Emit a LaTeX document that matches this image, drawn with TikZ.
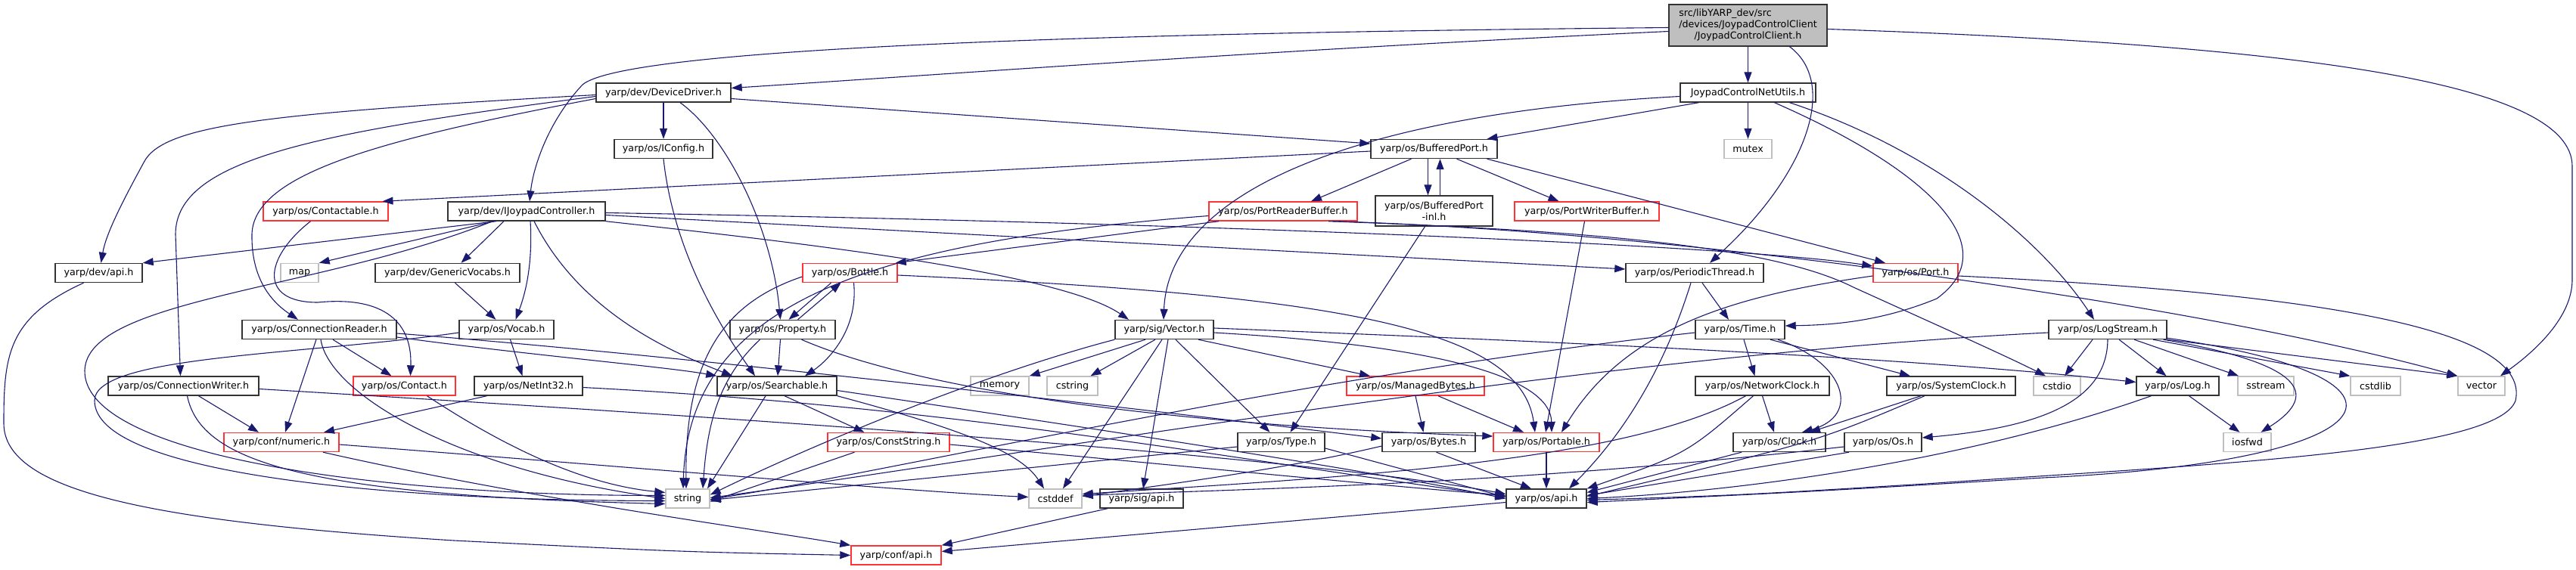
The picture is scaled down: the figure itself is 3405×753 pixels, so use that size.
\documentclass[tikz,border=0pt]{standalone}
\usepackage{fontspec}
\setmainfont{DejaVu Sans}
\usetikzlibrary{arrows.meta}
\definecolor{edgeblue}{HTML}{191970}
\definecolor{sysgray}{HTML}{BFBFBF}
\definecolor{hdrred}{HTML}{FF3333}
\tikzset{
  hdr/.style={draw=black!80, line width=1.4pt, fill=white, minimum height=25pt, inner sep=0pt, font=\fontsize{12.7}{15}\selectfont},
  redhdr/.style={hdr, draw=hdrred},
  syshdr/.style={hdr, draw=sysgray},
  dep/.style={->, draw=edgeblue, line width=1.1pt},
}
\begin{document}
\begin{tikzpicture}[x=1pt,y=-1pt,>={Triangle[length=14pt,width=10pt]}]
\useasboundingbox (0,0) rectangle (3405,753);
% 第一层
\node[hdr, fill=sysgray, minimum width=209pt, minimum height=55pt] (main) at (2310.5,33.5) {\begin{tabular}{@{}l@{}}src/libYARP\_dev/src\\/devices/JoypadControlClient\\\multicolumn{1}{@{}c@{}}{/JoypadControlClient.h}\end{tabular}};
% 第二层
\node[hdr, minimum width=178pt] (dd) at (877,122.5) {yarp/dev/DeviceDriver.h};
\node[hdr, minimum width=179pt] (jnu) at (2310.5,122.5) {JoypadControlNetUtils.h};
% 第三层
\node[hdr, minimum width=130pt] (icfg) at (877,197) {yarp/os/IConfig.h};
\node[hdr, minimum width=167pt] (bport) at (1895.5,197) {yarp/os/BufferedPort.h};
\node[syshdr, minimum width=63pt] (mutex) at (2310.5,197) {mutex};
% 第四层
\node[redhdr, minimum width=165pt] (cable) at (430.5,279.5) {yarp/os/Contactable.h};
\node[hdr, minimum width=208pt] (ijoy) at (696,279.5) {yarp/dev/IJoypadController.h};
\node[redhdr, minimum width=196pt] (prb) at (1696,279.5) {yarp/os/PortReaderBuffer.h};
\node[hdr, minimum width=155pt, minimum height=40pt, align=center] (binl) at (1895.5,279) {yarp/os/BufferedPort\\-inl.h};
\node[redhdr, minimum width=191pt] (pwb) at (2097.5,279.5) {yarp/os/PortWriterBuffer.h};
% 第五层
\node[hdr, minimum width=115pt] (devapi) at (130.5,361) {yarp/dev/api.h};
\node[syshdr, minimum width=50pt] (map) at (396,361) {map};
\node[hdr, minimum width=191pt] (gvoc) at (591.5,361) {yarp/dev/GenericVocabs.h};
\node[redhdr, minimum width=125pt] (bottle) at (1123.5,361) {yarp/os/Bottle.h};
\node[hdr, minimum width=182pt] (pthr) at (2240,361) {yarp/os/PeriodicThread.h};
\node[redhdr, minimum width=112pt] (port) at (2532,361) {yarp/os/Port.h};
% 第六层
\node[hdr, minimum width=204pt] (creader) at (422,436) {yarp/os/ConnectionReader.h};
\node[hdr, minimum width=125pt] (vocab) at (669.5,436) {yarp/os/Vocab.h};
\node[hdr, minimum width=139pt] (prop) at (1034.5,436) {yarp/os/Property.h};
\node[hdr, minimum width=130pt] (vec) at (1539,436) {yarp/sig/Vector.h};
\node[hdr, minimum width=118pt] (time) at (2300,436) {yarp/os/Time.h};
\node[hdr, minimum width=156pt] (lstream) at (2786,436) {yarp/os/LogStream.h};
% 第七层
\node[hdr, minimum width=199pt] (cwriter) at (242.5,510.5) {yarp/os/ConnectionWriter.h};
\node[redhdr, minimum width=135pt] (contact) at (534.5,510.5) {yarp/os/Contact.h};
\node[hdr, minimum width=143pt] (nint) at (698.5,510.5) {yarp/os/NetInt32.h};
\node[hdr, minimum width=158pt] (search) at (1027,510.5) {yarp/os/Searchable.h};
\node[syshdr, minimum width=77pt] (memory) at (1321.5,510.5) {memory};
\node[syshdr, minimum width=67pt] (cstring) at (1417.5,510.5) {cstring};
\node[redhdr, minimum width=182pt] (mbytes) at (1871,510.5) {yarp/os/ManagedBytes.h};
\node[hdr, minimum width=177pt] (nclock) at (2329.5,510.5) {yarp/os/NetworkClock.h};
\node[hdr, minimum width=170pt] (sclock) at (2579,510.5) {yarp/os/SystemClock.h};
\node[syshdr, minimum width=62pt] (cstdio) at (2719,510.5) {cstdio};
\node[hdr, minimum width=109pt] (log) at (2878.5,510.5) {yarp/os/Log.h};
\node[syshdr, minimum width=74pt] (sstream) at (2995,510.5) {sstream};
\node[syshdr, minimum width=66pt] (cstdlib) at (3140,510.5) {cstdlib};
\node[syshdr, minimum width=62pt] (vector) at (3280,510.5) {vector};
% 第八层
\node[redhdr, minimum width=152pt] (numeric) at (372,585) {yarp/conf/numeric.h};
\node[redhdr, minimum width=161pt] (cstr) at (1174.5,585) {yarp/os/ConstString.h};
\node[hdr, minimum width=115pt] (type) at (1693.5,585) {yarp/os/Type.h};
\node[hdr, minimum width=123pt] (bytes) at (1888.5,585) {yarp/os/Bytes.h};
\node[redhdr, minimum width=140pt] (portable) at (2044,585) {yarp/os/Portable.h};
\node[hdr, minimum width=122pt] (clock) at (2352,585) {yarp/os/Clock.h};
\node[hdr, minimum width=102pt] (os) at (2489,585) {yarp/os/Os.h};
\node[syshdr, minimum width=63pt] (iosfwd) at (2970.5,585) {iosfwd};
% 第九层
\node[syshdr, minimum width=58pt] (string) at (909,659.5) {string};
\node[syshdr, minimum width=70pt] (cstddef) at (1395,659.5) {cstddef};
\node[hdr, minimum width=110pt] (sigapi) at (1509,659.5) {yarp/sig/api.h};
\node[hdr, minimum width=106pt] (osapi) at (2044,659.5) {yarp/os/api.h};
% 第十层
\node[redhdr, minimum width=119pt] (confapi) at (1184.5,734.5) {yarp/conf/api.h};

% 顶层的依赖
\draw[dep] ([yshift=-8pt]main.west) .. controls (1700,65) and (1300,95) .. ([yshift=6pt]dd.east);
\draw[dep] ([yshift=-3pt]main.west) .. controls (1300,45) and (820,70) .. (770,112) .. controls (725,160) and (705,220) .. ([xshift=4pt]ijoy.north);
\draw[dep] (main) -- (jnu);
\draw[dep] ([xshift=55pt]main.south) .. controls (2430,110) and (2390,230) .. ([xshift=20pt]pthr.north);
\draw[dep] ([yshift=-5pt]main.east) .. controls (3050,60) and (3400,110) .. (3400,220) -- (3400,370) .. controls (3400,420) and (3350,465) .. ([xshift=25pt]vector.north);
% DeviceDriver
\draw[dep] (dd) -- (icfg);
\draw[dep] ([yshift=-8pt]dd.east) -- ([yshift=7pt]bport.west);
\draw[dep] ([yshift=-3pt]dd.west) .. controls (350,150) and (215,165) .. (190,215) .. controls (160,270) and (140,310) .. ([xshift=3pt]devapi.north);
\draw[dep] ([yshift=-5pt]dd.west) .. controls (420,175) and (232,210) .. (232,310) -- ([xshift=-4pt]cwriter.north);
\draw[dep] ([yshift=-8pt]dd.west) .. controls (500,185) and (335,230) .. (333,310) .. controls (332,370) and (360,400) .. ([xshift=-28pt]creader.north);
\draw[dep] ([xshift=22pt]dd.south) .. controls (960,180) and (1020,300) .. ([xshift=-3pt]prop.north);
\draw[dep] (icfg.south) .. controls (890,330) and (950,430) .. ([xshift=-29pt]search.north);
% JoypadControlNetUtils
\draw[dep] ([xshift=-65pt]jnu.south) -- ([xshift=70pt]bport.north);
\draw[dep] (jnu) -- (mutex);
\draw[dep] ([yshift=-5pt]jnu.west) .. controls (1800,150) and (1545,250) .. ([xshift=-1pt]vec.north);
\draw[dep] ([xshift=35pt]jnu.south) .. controls (2560,230) and (2650,330) .. (2560,395) .. controls (2480,428) and (2410,430) .. ([yshift=5pt]time.east);
\draw[dep] ([xshift=55pt]jnu.south) .. controls (2560,200) and (2700,320) .. ([xshift=-18pt]lstream.north);
% BufferedPort
\draw[dep] ([yshift=-3pt]bport.west) -- ([xshift=75pt]cable.north);
\draw[dep] ([xshift=-30pt]bport.south) -- ([xshift=37pt]prb.north);
\draw[dep] ([xshift=-8pt]bport.south) -- ([xshift=-8pt]binl.north);
\draw[dep] ([xshift=8pt]binl.north) -- ([xshift=8pt]bport.south);
\draw[dep] ([xshift=30pt]bport.south) -- ([xshift=-37pt]pwb.north);
\draw[dep] ([xshift=70pt]bport.south) -- ([xshift=-40pt]port.north);
\draw[dep] ([xshift=-12pt]binl.south) -- ([xshift=12pt]type.north);
\draw[dep] ([xshift=-3pt]pwb.south) -- ([xshift=-1pt]portable.north);
\draw[dep] ([xshift=-20pt]cable.south) .. controls (350,340) and (340,400) .. (420,400) .. controls (500,392) and (545,420) .. ([xshift=8pt]contact.north);
% IJoypadController
\draw[dep] ([xshift=-40pt]ijoy.south) -- (devapi.north east);
\draw[dep] ([xshift=-43pt]ijoy.south) -- (map.north east);
\draw[dep] ([xshift=-45pt]ijoy.south) .. controls (420,385) and (115,395) .. (112,490) .. controls (110,600) and (480,655) .. ([yshift=4pt]string.west);
\draw[dep] ([xshift=-30pt]ijoy.south) -- ([xshift=18pt]gvoc.north);
\draw[dep] ([xshift=5pt]ijoy.south) .. controls (705,360) and (690,400) .. ([xshift=12pt]vocab.north);
\draw[dep] ([xshift=10pt]ijoy.south) .. controls (770,420) and (900,470) .. ([xshift=-59pt]search.north);
\draw[dep] (ijoy.south east) .. controls (1050,320) and (1400,360) .. ([xshift=-47pt]vec.north);
\draw[dep] ([yshift=-5pt]ijoy.east) -- ([yshift=5pt]pthr.west);
\draw[dep] ([yshift=-2pt]ijoy.east) .. controls (1600,295) and (2300,325) .. ([yshift=9pt]port.west);
% PortReaderBuffer
\draw[dep] ([xshift=-85pt]prb.south) -- ([xshift=-3pt]bottle.north east);
\draw[dep] ([yshift=-6pt]prb.west) .. controls (1150,320) and (910,400) .. ([xshift=-6pt]string.north);
\draw[dep] ([xshift=60pt]prb.south) .. controls (2100,305) and (2340,325) .. (2450,380) .. controls (2560,430) and (2650,470) .. ([xshift=-15pt]cstdio.north);
\draw[dep] ([xshift=65pt]prb.south) .. controls (2200,305) and (2900,400) .. (vector.north west);
% GenericVocabs, Bottle, Property
\draw[dep] ([xshift=10pt]gvoc.south) -- ([xshift=-14pt]vocab.north);
\draw[dep] ([xshift=-25pt]bottle.south) -- ([xshift=8pt]prop.north);
\draw[dep] ([xshift=20pt]prop.north) -- ([xshift=-12pt]bottle.south);
\draw[dep] ([xshift=5pt]bottle.south) .. controls (1135,440) and (1090,480) .. ([xshift=37pt]search.north);
\draw[dep] ([yshift=-5pt]bottle.west) .. controls (960,400) and (905,470) .. ([xshift=-2pt]string.north);
\draw[dep] ([yshift=-3pt]bottle.east) .. controls (1750,390) and (2010,430) .. ([xshift=-15pt]portable.north);
% PeriodicThread, Port
\draw[dep] ([xshift=10pt]pthr.south) -- ([xshift=-15pt]time.north);
\draw[dep] ([xshift=-5pt]pthr.south) .. controls (2190,520) and (2120,600) .. ([xshift=30pt]osapi.north);
\draw[dep] ([yshift=-4pt]port.west) .. controls (2300,390) and (2150,430) .. ([xshift=20pt]portable.north);
\draw[dep] ([yshift=-4pt]port.east) .. controls (3100,390) and (3345,440) .. (3325,530) .. controls (3300,600) and (2900,615) .. (2545,640) .. controls (2300,655) .. ([yshift=-2pt]osapi.east);
% ConnectionReader, Vocab, Property
\draw[dep] ([xshift=18pt]creader.south) -- ([xshift=-17pt]contact.north);
\draw[dep] ([xshift=-4pt]creader.south) -- ([xshift=5pt]numeric.north);
\draw[dep] ([xshift=2pt]creader.south) .. controls (435,520) and (600,620) .. (string.west);
\draw[dep] ([yshift=-10pt]creader.east) .. controls (700,470) and (880,485) .. (search.north west);
\draw[dep] ([yshift=-5pt]creader.east) .. controls (900,470) and (1500,540) .. ([yshift=5pt]bytes.west);
\draw[dep] ([xshift=5pt]vocab.south) -- ([xshift=-8pt]nint.north);
\draw[dep] ([yshift=-4pt]vocab.west) .. controls (400,470) and (125,470) .. (125,530) .. controls (125,625) and (500,662) .. ([yshift=-3pt]string.west);
\draw[dep] ([xshift=-3pt]prop.south) -- ([xshift=1pt]search.north);
\draw[dep] ([xshift=-30pt]prop.south) .. controls (950,500) and (935,560) .. ([xshift=20pt]string.north);
\draw[dep] ([xshift=25pt]prop.south) .. controls (1200,510) and (1500,560) .. ([yshift=8pt]portable.west);
% sig/Vector
\draw[dep] ([xshift=-25pt]vec.south) -- (memory.north east);
\draw[dep] ([xshift=-12pt]vec.south) -- ([xshift=24pt]cstring.north);
\draw[dep] (vec.south west) .. controls (1280,500) and (1050,600) .. ([yshift=5pt]string.east);
\draw[dep] ([xshift=-3pt]vec.south) -- ([xshift=10pt]cstddef.north);
\draw[dep] ([xshift=5pt]vec.south) -- ([xshift=2pt]sigapi.north);
\draw[dep] ([xshift=15pt]vec.south) -- ([xshift=-15pt]type.north);
\draw[dep] ([xshift=45pt]vec.south) -- ([xshift=-60pt]mbytes.north);
\draw[dep] ([yshift=-4pt]vec.east) .. controls (1950,460) and (2050,510) .. ([xshift=7pt]portable.north);
\draw[dep] ([yshift=2pt]vec.east) .. controls (2000,450) and (2500,470) .. ([yshift=5pt]log.west);
% Time, LogStream
\draw[dep] ([xshift=5pt]time.south) -- ([xshift=-10pt]nclock.north);
\draw[dep] ([xshift=40pt]time.south) -- ([xshift=-54pt]sclock.north);
\draw[dep] ([xshift=50pt]time.south) .. controls (2440,480) and (2460,550) .. ([xshift=30pt]clock.north);
\draw[dep] ([yshift=-4pt]time.west) .. controls (1700,500) and (1200,620) .. ([yshift=-1pt]string.east);
\draw[dep] ([xshift=-20pt]lstream.south) -- ([xshift=10pt]cstdio.north);
\draw[dep] ([xshift=15pt]lstream.south) -- ([xshift=-15pt]log.north);
\draw[dep] ([xshift=35pt]lstream.south) -- ([xshift=-36pt]sstream.north);
\draw[dep] ([xshift=60pt]lstream.south) -- (cstdlib.north west);
\draw[dep] (lstream.south east) -- (vector.north west);
\draw[dep] ([xshift=-5pt]lstream.south east) .. controls (3040,480) and (3070,520) .. ([xshift=18pt]iosfwd.north);
\draw[dep] (lstream.south) .. controls (2785,530) and (2700,565) .. ([yshift=6pt]os.east);
\draw[dep] ([yshift=2pt]lstream.south east) .. controls (3230,500) and (3170,610) .. (2700,632) .. controls (2400,650) .. ([yshift=-5pt]osapi.east);
\draw[dep] ([yshift=-4pt]lstream.west) .. controls (2100,470) and (1300,610) .. ([yshift=1pt]string.east);
% ConnectionWriter, Contact, NetInt32
\draw[dep] ([xshift=20pt]cwriter.south) -- ([xshift=-30pt]numeric.north);
\draw[dep] ([xshift=5pt]cwriter.south) .. controls (265,610) and (400,655) .. ([yshift=-7pt]string.west);
\draw[dep] ([yshift=-4pt]cwriter.east) .. controls (900,548) and (1700,600) .. ([yshift=6pt]osapi.west);
\draw[dep] ([xshift=30pt]contact.south) .. controls (650,580) and (760,640) .. ([yshift=8pt]string.west);
\draw[dep] ([xshift=-55pt]nint.south) -- ([xshift=56pt]numeric.north);
\draw[dep] ([yshift=-2pt]nint.east) .. controls (1300,540) and (1700,620) .. ([yshift=3pt]osapi.west);
% Searchable
\draw[dep] ([xshift=-15pt]search.south) -- ([xshift=26pt]string.north);
\draw[dep] ([xshift=10pt]search.south) -- ([xshift=-32pt]cstr.north);
\draw[dep] (search.south east) .. controls (1280,570) and (1350,600) .. ([xshift=-15pt]cstddef.north);
\draw[dep] ([yshift=-6pt]search.east) .. controls (1400,560) and (1800,620) .. (osapi.west);
% 下层
\draw[dep] (mbytes.south) -- ([xshift=-7pt]bytes.north);
\draw[dep] ([xshift=30pt]mbytes.south) -- ([xshift=-30pt]portable.north);
\draw[dep] (nclock.south) -- ([xshift=-7pt]clock.north);
\draw[dep] ([xshift=-12pt]nclock.south) .. controls (2230,600) .. (osapi.north east);
\draw[dep] ([xshift=-22pt]nclock.south) .. controls (2150,610) and (1800,630) .. ([yshift=6pt]cstddef.east);
\draw[dep] ([xshift=-40pt]sclock.south) -- ([xshift=40pt]clock.north);
\draw[dep] ([xshift=-35pt]sclock.south) .. controls (2400,585) .. ([yshift=3pt]osapi.east);
\draw[dep] ([xshift=15pt]log.south) -- ([xshift=-10pt]iosfwd.north);
\draw[dep] ([xshift=-35pt]log.south) .. controls (2600,610) and (2300,650) .. (osapi.east);
\draw[dep] ([yshift=-3pt]numeric.east) .. controls (800,615) and (1200,650) .. ([yshift=2pt]cstddef.west);
\draw[dep] ([xshift=55pt]numeric.south) .. controls (700,660) and (1000,700) .. (confapi.north west);
\draw[dep] ([xshift=-45pt]cstr.south) -- ([yshift=-4pt]string.east);
\draw[dep] ([yshift=-3pt]cstr.east) .. controls (1500,610) and (1800,640) .. ([yshift=4pt]osapi.west);
\draw[dep] ([yshift=-6pt]type.west) -- ([yshift=-2pt]string.east);
\draw[dep] ([yshift=-8pt]type.east) -- ([yshift=2pt]osapi.west);
\draw[dep] ([xshift=10pt]bytes.south) -- ([xshift=-20pt]osapi.north);
\draw[dep] ([yshift=-5pt]bytes.west) .. controls (1700,620) and (1550,640) .. ([yshift=3pt]cstddef.east);
\draw[dep] (portable) -- (osapi);
\draw[dep] ([xshift=-50pt]clock.south) -- ([yshift=8pt]osapi.east);
\draw[dep] ([xshift=-45pt]os.south) -- ([yshift=4pt]osapi.east);
\draw[dep] ([yshift=-6pt]os.west) .. controls (2000,640) and (1700,645) .. ([yshift=4pt]cstddef.east);
\draw[dep] ([xshift=-45pt]sigapi.south) -- (confapi.north east);
\draw[dep] ([yshift=-5pt]osapi.west) -- ([yshift=5pt]confapi.east);
\draw[dep] ([xshift=-20pt]devapi.south) .. controls (10,420) and (5,470) .. (5,560) .. controls (5,650) and (200,690) .. (600,715) .. controls (900,730) .. (confapi.west);
\end{tikzpicture}
\end{document}
